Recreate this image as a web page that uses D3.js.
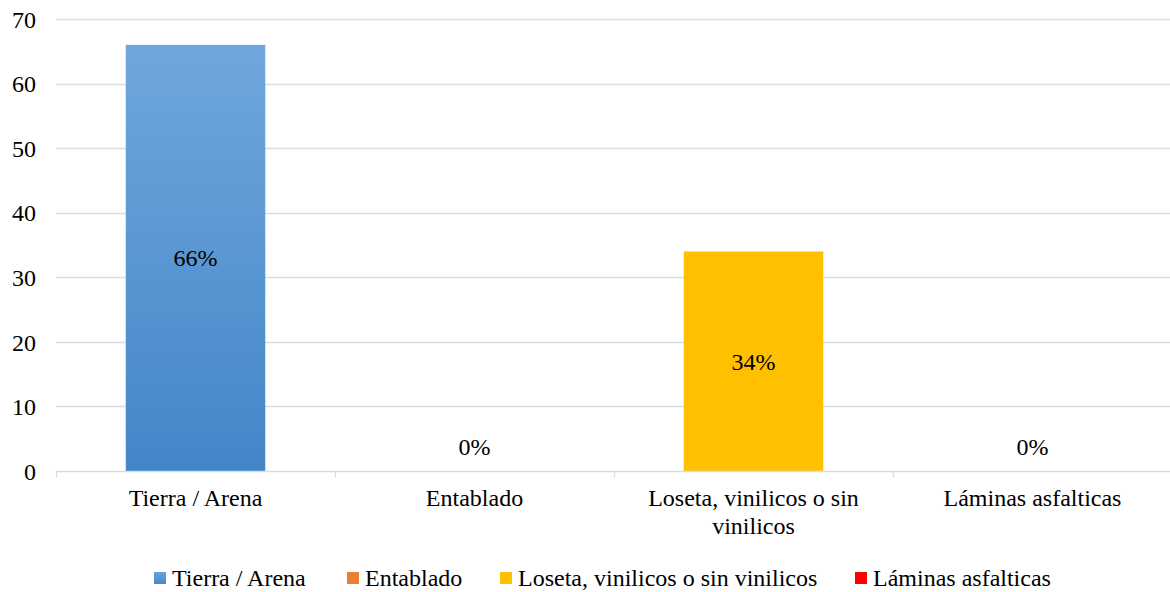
<!DOCTYPE html>
<html>
<head>
<meta charset="utf-8">
<script src="https://cdn.jsdelivr.net/npm/d3@7"></script>
<style>
  html, body { margin: 0; padding: 0; background: #fff; }
  svg { display: block; }
</style>
</head>
<body>
<svg id="chart" width="1170" height="592"></svg>
<script>
// Floor material shares
const categories = ["Tierra / Arena", "Entablado", "Loseta, vinilicos o sin vinilicos", "Láminas asfalticas"];
const values = [66, 0, 34, 0];
const valueLabels = ["66%", "0%", "34%", "0%"];
const colors = ["#5B9BD5", "#ED7D31", "#FFC000", "#FF0000"];
const yTicks = [0, 10, 20, 30, 40, 50, 60, 70];

const FONT = '"Liberation Serif", "Times New Roman", serif';
const FS = 24;
const svg = d3.select("#chart");
const W = 1170, H = 592;
const plotLeft = 56, plotRight = 1172, plotTop = 19, plotBottom = 471;

const x = d3.scaleBand().domain(categories).range([plotLeft, plotRight]).paddingInner(0.5).paddingOuter(0.25);
const y = d3.scaleLinear().domain([0, 70]).range([plotBottom, plotTop]);

// Gradient for the first series
const defs = svg.append("defs");
const grad = defs.append("linearGradient").attr("id", "blueGrad").attr("x1", 0).attr("y1", 0).attr("x2", 0).attr("y2", 1);
grad.append("stop").attr("offset", "0%").attr("stop-color", "#70a7dd");
grad.append("stop").attr("offset", "100%").attr("stop-color", "#4386c8");
const legGrad = defs.append("linearGradient").attr("id", "blueGradLeg").attr("x1", 0).attr("y1", 0).attr("x2", 0).attr("y2", 1);
legGrad.append("stop").attr("offset", "0%").attr("stop-color", "#6aa3db");
legGrad.append("stop").attr("offset", "100%").attr("stop-color", "#4689ca");
const fills = ["url(#blueGrad)", colors[1], colors[2], colors[3]];
const legFills = ["url(#blueGradLeg)", colors[1], colors[2], colors[3]];

// Gridlines
svg.append("g").selectAll("line").data(yTicks.filter(d => d > 0)).join("line")
  .attr("x1", plotLeft).attr("x2", W)
  .attr("y1", d => Math.round(y(d)) + 0.5).attr("y2", d => Math.round(y(d)) + 0.5)
  .attr("stroke", "#d9dde3").attr("stroke-width", 1.3);

// Y axis labels
const yAxis = d3.axisLeft(y).tickValues(yTicks).tickSize(0).tickPadding(20);
const yg = svg.append("g").attr("transform", `translate(${plotLeft},0)`).call(yAxis);
yg.select(".domain").remove();
yg.selectAll("text")
  .style("font-family", FONT).style("font-size", FS + "px")
  .attr("fill", "#000").attr("dy", "0.34em");

// Bars
svg.append("g").selectAll("rect").data(categories).join("rect")
  .attr("x", d => x(d))
  .attr("y", (d, i) => y(values[i]))
  .attr("width", x.bandwidth())
  .attr("height", (d, i) => y(0) - y(values[i]))
  .attr("fill", (d, i) => fills[i]);

// X axis baseline and category separators
const baseY = Math.round(y(0)) + 0.5;
svg.append("line").attr("x1", plotLeft).attr("x2", W).attr("y1", baseY).attr("y2", baseY)
  .attr("stroke", "#d9dde3").attr("stroke-width", 1.3);
const bounds = d3.range(categories.length + 1).map(i => plotLeft + i * x.step());
svg.append("g").selectAll("line").data(bounds).join("line")
  .attr("x1", d => Math.round(d) + 0.5).attr("x2", d => Math.round(d) + 0.5)
  .attr("y1", baseY).attr("y2", baseY + 6)
  .attr("stroke", "#d9dde3").attr("stroke-width", 1.3);

// Category labels (wrapped)
const wrapped = {
  "Loseta, vinilicos o sin vinilicos": ["Loseta, vinilicos o sin", "vinilicos"]
};
const catG = svg.append("g");
categories.forEach(c => {
  const lines = wrapped[c] || [c];
  const cx = x(c) + x.bandwidth() / 2;
  const t = catG.append("text").attr("text-anchor", "middle").attr("fill", "#000")
    .style("font-family", FONT).style("font-size", FS + "px")
    .attr("x", cx).attr("y", 506);
  lines.forEach((l, k) => t.append("tspan").attr("x", cx).attr("dy", k === 0 ? 0 : 28).text(l));
});

// Value labels
svg.append("g").selectAll("text").data(categories).join("text")
  .attr("text-anchor", "middle").attr("fill", "#000")
  .style("font-family", FONT).style("font-size", FS + "px")
  .attr("x", d => x(d) + x.bandwidth() / 2)
  .attr("y", (d, i) => values[i] > 0 ? (y(values[i]) + y(0)) / 2 : y(0) - 24)
  .attr("dy", "0.35em")
  .text((d, i) => valueLabels[i]);

// Legend
const legendX = [154, 347, 500, 855];
const lg = svg.append("g");
categories.forEach((c, i) => {
  const gx = legendX[i];
  lg.append("rect").attr("x", gx).attr("y", 572).attr("width", 12).attr("height", 12).attr("fill", legFills[i]);
  lg.append("text").attr("x", gx + 18).attr("y", 586).attr("fill", "#000")
    .style("font-family", FONT).style("font-size", FS + "px").text(c);
});
</script>
</body>
</html>
